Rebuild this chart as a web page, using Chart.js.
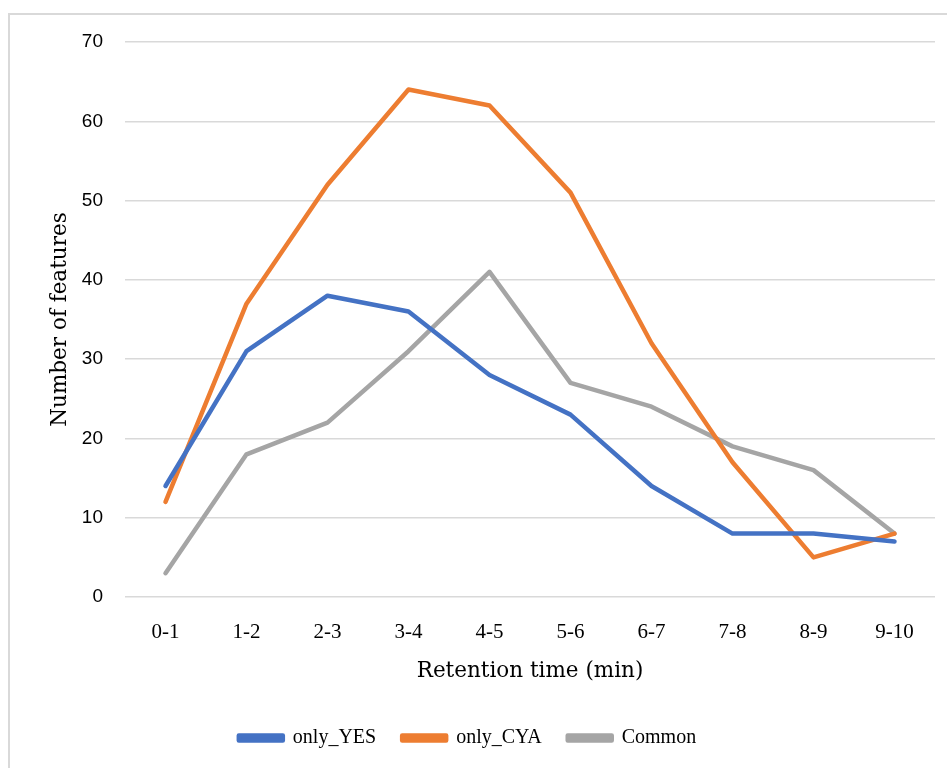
<!DOCTYPE html>
<html>
<head>
<meta charset="utf-8">
<script src="https://cdn.jsdelivr.net/npm/chart.js@4"></script>
<style>
  html, body { margin: 0; padding: 0; background: #fff; }
  #wrap { width: 947px; height: 768px; position: relative; }
</style>
</head>
<body>
<div id="wrap"><canvas id="rtChart" width="947" height="768"></canvas></div>
<script>
const categories = ['0-1', '1-2', '2-3', '3-4', '4-5', '5-6', '6-7', '7-8', '8-9', '9-10'];
const onlyYES = [14, 31, 38, 36, 28, 23, 14, 8, 8, 7];
const onlyCYA = [12, 37, 52, 64, 62, 51, 32, 17, 5, 8];
const common = [3, 18, 22, 31, 41, 27, 24, 19, 16, 8];
const yTicks = [0, 10, 20, 30, 40, 50, 60, 70];

const serif = "'Liberation Serif', 'DejaVu Serif', serif";
const wideSerif = "'DejaVu Serif', 'Liberation Serif', serif";
const sans = "'Liberation Sans', 'DejaVu Sans', sans-serif";

// light frame round the plot, like the Excel chart area
const framePlugin = {
    id: 'frame',
    beforeDraw(chart) {
        const c = chart.ctx;
        c.save();
        c.strokeStyle = '#d9d9d9';
        c.lineWidth = 2;
        c.strokeRect(9, 14, 1000, 1000);
        c.restore();
    }
};

function line(label, data, color) {
    return {
        label: label,
        data: data,
        borderColor: color,
        backgroundColor: color,
        borderWidth: 4.5,
        borderCapStyle: 'round',
        borderJoinStyle: 'round',
        pointRadius: 0,
        pointHoverRadius: 0,
        tension: 0,
        fill: false
    };
}

const ctx = document.getElementById('rtChart').getContext('2d');
const rtChart = new Chart(ctx, {
    type: 'line',
    data: {
        labels: categories,
        datasets: [
            line('only_YES', onlyYES, '#4472C4'),
            line('only_CYA', onlyCYA, '#ED7D31'),
            line('Common', common, '#A5A5A5')
        ]
    },
    plugins: [framePlugin],
    options: {
        responsive: false,
        animation: false,
        layout: { padding: { top: 42, right: 12, bottom: 10, left: 0 } },
        scales: {
            x: {
                offset: true,
                grid: { display: false, drawTicks: false },
                border: { display: false },
                ticks: { color: '#000', font: { family: serif, size: 21 }, padding: 23 },
                title: {
                    display: true,
                    text: 'Retention time (min)',
                    color: '#000',
                    font: { family: wideSerif, size: 21.5 },
                    padding: { top: 0, bottom: 18 }
                },
                afterFit(scale) { scale.height = 105; }
            },
            y: {
                min: 0,
                max: 70,
                afterBuildTicks(scale) { scale.ticks = yTicks.map(v => ({ value: v })); },
                grid: { color: '#d9d9d9', lineWidth: 1.5, drawTicks: false },
                border: { display: false },
                ticks: { color: '#000', font: { family: sans, size: 19 }, padding: 22 },
                title: {
                    display: true,
                    text: 'Number of features',
                    color: '#000',
                    font: { family: wideSerif, size: 21.5 },
                    padding: { top: 48, bottom: 0 }
                },
                afterFit(scale) { scale.width = 125; }
            }
        },
        plugins: {
            legend: {
                position: 'bottom',
                labels: {
                    color: '#000',
                    font: { family: serif, size: 20 },
                    boxWidth: 44,
                    boxHeight: 5,
                    padding: 26
                }
            },
            tooltip: { enabled: false }
        }
    }
});
</script>
</body>
</html>
